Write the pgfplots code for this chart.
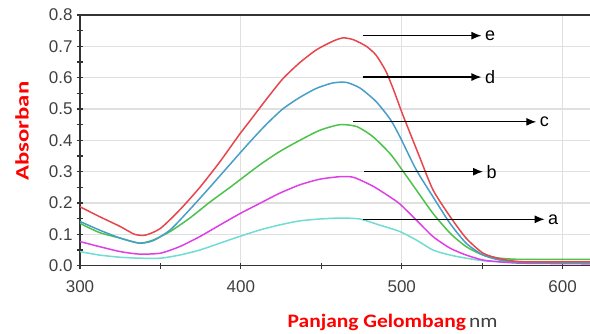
\documentclass[border=0pt]{standalone}
\usepackage{fontspec}
\setmainfont{Liberation Sans}
\newfontfamily\carlito{Carlito}
\usepackage{pgfplots}
\pgfplotsset{compat=1.18}
\usetikzlibrary{arrows.meta}
\definecolor{cE}{RGB}{230,70,76}
\definecolor{cD}{RGB}{72,158,200}
\definecolor{cC}{RGB}{76,194,76}
\definecolor{cB}{RGB}{222,64,230}
\definecolor{cA}{RGB}{112,220,210}
\definecolor{axc}{RGB}{51,51,51}
\definecolor{tkc}{RGB}{64,64,64}
\begin{document}
\begin{tikzpicture}
\begin{axis}[
  at={(0,0)}, anchor=south west,
  scale only axis, width=510pt, height=250.7pt,
  xmin=300, xmax=617, ymin=0, ymax=0.8,
  axis y line*=left, axis x line*=box,
  axis line style={-, draw=axc, line width=1.4pt},
  xtick={300,400,500,600}, ytick={0,0.1,...,0.8},
  minor x tick num=1, minor y tick num=1,
  xtick pos=lower, ytick pos=left,
  tick align=center,
  major tick length=6pt, minor tick length=6pt,
  tick style={draw=axc, line width=1.2pt},
  grid=major, major grid style={draw=black!12, line width=1.2pt},
  /pgf/number format/assume math mode=true,
  ticklabel style={font=\fontsize{17}{17}\selectfont, text=tkc},
  yticklabel style={/pgf/number format/fixed, /pgf/number format/precision=1, /pgf/number format/fixed zerofill, xshift=-1pt},
  xticklabel style={yshift=-8pt},
  every axis x label/.style={at={(axis description cs:0.613,0)}, anchor=base, yshift=-62.3pt},
  every axis y label/.style={at={(axis description cs:0,0.537)}, xshift=-58pt, rotate=90, anchor=center},
  xlabel={\scalebox{1.13}[1]{{\carlito\bfseries\fontsize{19}{19}\selectfont\color{red}Panjang Gelombang} {\carlito\fontsize{19}{19}\selectfont\color{tkc}nm}}},
  ylabel={\scalebox{1.3}[1]{\carlito\bfseries\fontsize{19}{19}\selectfont\color{red}Absorban}},
  every axis plot/.append style={line width=1.5pt, no marks, smooth, tension=0.4},
]
\addplot[cA] coordinates {(300,0.045)(312,0.034)(325,0.027)(337,0.024)(350,0.024)(362,0.034)(374.5,0.05)(387,0.072)(399,0.093)(411.8,0.114)(424,0.13)(436.6,0.143)(449,0.149)(461.5,0.152)(474,0.149)(486,0.13)(498.8,0.109)(509,0.082)(519.4,0.05)(530,0.034)(540,0.024)(550.5,0.016)(561,0.013)(575,0.01)(617,0.01)};
\addplot[cB] coordinates {(300,0.077)(312,0.061)(325,0.045)(337,0.037)(350,0.040)(362,0.061)(374.5,0.093)(387,0.13)(399,0.165)(411.8,0.199)(424,0.231)(436.6,0.258)(449,0.276)(461.5,0.284)(470,0.282)(482,0.254)(492.5,0.22)(498.8,0.197)(509,0.146)(519.4,0.093)(530,0.056)(540,0.034)(550.5,0.018)(561,0.012)(575,0.008)(617,0.006)};
\addplot[cC] coordinates {(300,0.135)(312,0.106)(325,0.088)(337,0.072)(345.5,0.082)(356,0.109)(368,0.151)(381,0.204)(393,0.249)(399.4,0.274)(411.8,0.322)(424,0.364)(436.6,0.40)(449,0.432)(461.5,0.450)(472,0.444)(482,0.412)(492.5,0.359)(498.8,0.316)(509,0.242)(519.4,0.167)(530,0.104)(540,0.061)(550.5,0.034)(561,0.024)(575,0.02)(617,0.02)};
\addplot[cD] coordinates {(300,0.141)(312,0.114)(325,0.088)(337,0.072)(345.5,0.080)(356,0.114)(368,0.178)(381,0.252)(393,0.322)(405.6,0.395)(416,0.452)(426,0.500)(436.6,0.537)(447,0.566)(457,0.583)(465.5,0.585)(474,0.567)(484,0.524)(493,0.466)(499,0.41)(509,0.306)(519.4,0.22)(530,0.135)(540,0.072)(550.5,0.034)(561,0.018)(575,0.010)(617,0.008)};
\addplot[cE] coordinates {(300,0.188)(312,0.157)(325,0.125)(334,0.100)(341,0.098)(350,0.119)(362,0.178)(374.5,0.250)(387,0.332)(399,0.418)(405.6,0.462)(416,0.532)(426,0.596)(436.6,0.648)(447,0.689)(457,0.716)(463.5,0.727)(470,0.721)(478,0.700)(484,0.672)(490,0.622)(495,0.560)(500,0.490)(505,0.425)(511,0.348)(519.4,0.242)(530,0.157)(540,0.088)(550.5,0.040)(561,0.022)(571,0.014)(580,0.012)(617,0.012)};
\begin{scope}[line width=1.2pt, -{Latex[length=10pt,width=8pt]}]
\draw (axis cs:475.6,0.734) -- (axis cs:549.5,0.734) node[right, inner sep=3pt, font=\fontsize{18}{18}\selectfont]{e};
\draw (axis cs:475.6,0.602) -- (axis cs:549.5,0.602) node[right, inner sep=3pt, font=\fontsize{18}{18}\selectfont]{d};
\draw (axis cs:469.7,0.459) -- (axis cs:583.6,0.459) node[right, inner sep=3pt, font=\fontsize{18}{18}\selectfont]{c};
\draw (axis cs:476.4,0.300) -- (axis cs:550.5,0.300) node[right, inner sep=3pt, font=\fontsize{18}{18}\selectfont]{b};
\draw (axis cs:475.6,0.148) -- (axis cs:588.8,0.148) node[right, inner sep=3pt, font=\fontsize{18}{18}\selectfont]{a};
\end{scope}
\end{axis}
\pgfresetboundingbox
\path[use as bounding box] (-80pt,-68.3pt) rectangle (510pt,265.7pt);
\end{tikzpicture}
\end{document}
